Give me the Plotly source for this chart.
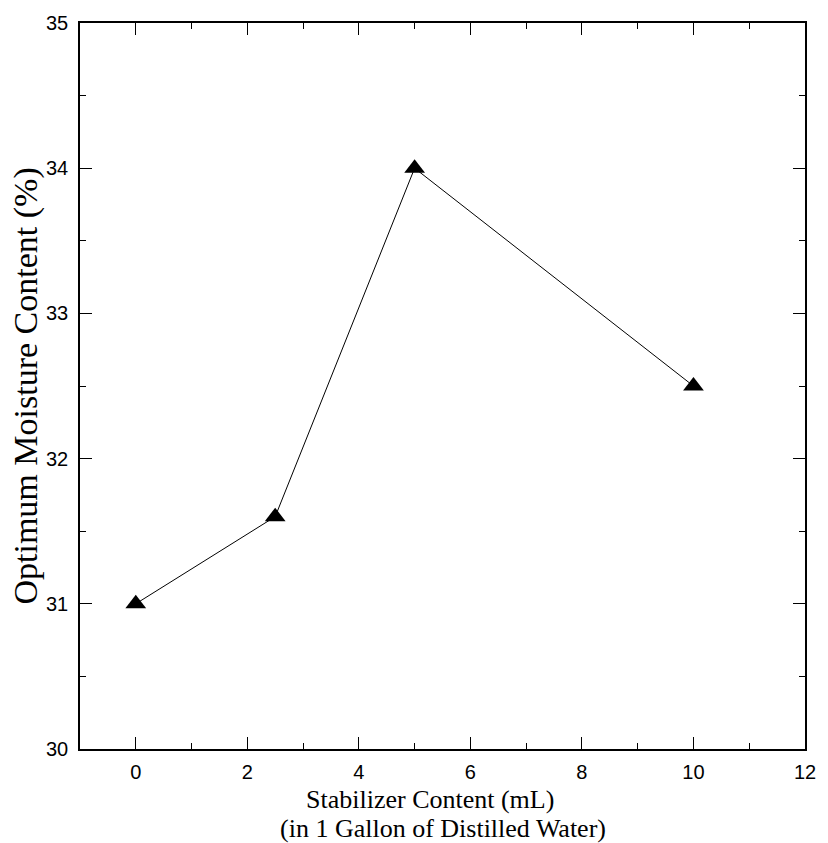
import plotly.graph_objects as go

stabilizer_ml = [0, 2.5, 5, 10]
moisture_pct = [31.0, 31.6, 34.0, 32.5]
x_ticks = [0, 2, 4, 6, 8, 10, 12]
y_ticks = [30, 31, 32, 33, 34, 35]

fig = go.Figure()
fig.add_trace(go.Scatter(
    x=stabilizer_ml, y=moisture_pct, mode="lines+markers",
    line=dict(color="black", width=1),
    marker=dict(symbol="triangle-up", size=18, color="black"),
    showlegend=False,
))

axis_common = dict(
    showgrid=False, zeroline=False, showline=True, linecolor="black", linewidth=1.5,
    mirror="allticks", ticks="inside", ticklen=12, tickwidth=1, tickcolor="black",
    tickfont=dict(family="Liberation Sans, Arial", size=20, color="black"),
    minor=dict(ticks="inside", ticklen=6, tickwidth=1, tickcolor="black"),
)

serif_x = dict(family="Liberation Serif, Times New Roman", size=26, color="black")
serif_y = dict(family="Liberation Serif, Times New Roman", size=34, color="black")

fig.update_layout(
    width=828, height=843,
    margin=dict(l=80, r=16, t=19, b=94),
    plot_bgcolor="white", paper_bgcolor="white",
    xaxis=dict(range=[-1, 12], tickvals=x_ticks, ticklabelstandoff=4, **axis_common),
    yaxis=dict(range=[30, 35], tickvals=y_ticks, ticklabelstandoff=6, **axis_common),
    annotations=[
        dict(text="Stabilizer Content (mL)", xref="paper", yref="paper",
             x=(433 - 80) / 732, y=-67 / 730, xanchor="center", yanchor="bottom",
             showarrow=False, font=serif_x),
        dict(text="(in 1 Gallon of Distilled Water)", xref="paper", yref="paper",
             x=(446 - 80) / 732, y=-97 / 730, xanchor="center", yanchor="bottom",
             showarrow=False, font=serif_x),
        dict(text="Optimum Moisture Content (%)", xref="paper", yref="paper",
             x=(25 - 80) / 732, y=(749 - 384) / 730, xanchor="center", yanchor="middle",
             textangle=-90, showarrow=False, font=serif_y),
    ],
)
fig.update_xaxes(minor=dict(dtick=1, tick0=0))
fig.update_yaxes(minor=dict(dtick=0.5, tick0=30))

fig.write_html("out.html")
